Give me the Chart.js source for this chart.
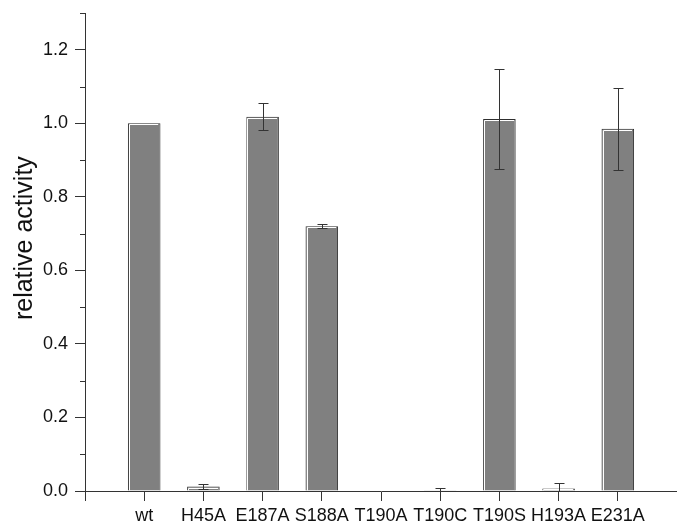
<!DOCTYPE html>
<html>
<head>
<meta charset="utf-8">
<script src="https://cdn.jsdelivr.net/npm/chart.js@4.4.1/dist/chart.umd.min.js"></script>
<style>
    html, body { margin: 0; padding: 0; background: #fff; }
    #wrap { width: 677px; height: 524px; }
</style>
</head>
<body>
<div id="wrap"><canvas id="activityChart" width="677" height="524"></canvas></div>
<script>
// values
var mutants = ['wt', 'H45A', 'E187A', 'S188A', 'T190A', 'T190C', 'T190S', 'H193A', 'E231A'];
var activity = [1.0, 0.012, 1.018, 0.72, 0, 0.002, 1.012, 0.007, 0.985];
var activityError = [0, 0.007, 0.037, 0.005, 0, 0.005, 0.135, 0.014, 0.112];

var axisColor = '#333';
var fontFamily = '"Liberation Sans", Arial, Helvetica, sans-serif';

// white highlight along the left and top edges of each bar
var barHighlight = {
    id: 'barHighlight',
    afterDatasetsDraw: function (chart) {
        var ctx = chart.ctx;
        var meta = chart.getDatasetMeta(0);
        ctx.save();
        ctx.strokeStyle = '#fff';
        ctx.lineWidth = 1;
        meta.data.forEach(function (bar, i) {
            if (activity[i] <= 0) return;
            var left = bar.x - bar.width / 2;
            var right = bar.x + bar.width / 2;
            var top = Math.min(bar.y, bar.base);
            var bottom = Math.max(bar.y, bar.base);
            if (bottom - top < 2) return;
            ctx.beginPath();
            ctx.moveTo(Math.round(left) + 1.5, bottom);
            ctx.lineTo(Math.round(left) + 1.5, Math.round(top) + 1.5);
            ctx.lineTo(Math.round(right) - 2, Math.round(top) + 1.5);
            ctx.stroke();
        });
        ctx.restore();
    }
};

// error bars from activityError
var errorBars = {
    id: 'errorBars',
    afterDatasetsDraw: function (chart) {
        var ctx = chart.ctx;
        var yScale = chart.scales.y;
        var meta = chart.getDatasetMeta(0);
        ctx.save();
        ctx.strokeStyle = axisColor;
        ctx.lineWidth = 1;
        meta.data.forEach(function (bar, i) {
            var err = activityError[i];
            if (!err) return;
            var x = Math.round(bar.x) + 0.5;
            var yHi = Math.round(yScale.getPixelForValue(activity[i] + err)) + 0.5;
            var yLo = Math.round(yScale.getPixelForValue(Math.max(activity[i] - err, 0))) + 0.5;
            ctx.beginPath();
            ctx.moveTo(x, yHi);
            ctx.lineTo(x, yLo);
            ctx.moveTo(x - 5, yHi);
            ctx.lineTo(x + 5, yHi);
            ctx.moveTo(x - 5, yLo);
            ctx.lineTo(x + 5, yLo);
            ctx.stroke();
        });
        ctx.restore();
    }
};

// short minor ticks at the odd tenths on the y axis
var minorTicks = {
    id: 'minorTicks',
    afterDraw: function (chart) {
        var ctx = chart.ctx;
        var yScale = chart.scales.y;
        ctx.save();
        ctx.strokeStyle = axisColor;
        ctx.lineWidth = 1;
        yScale.ticks.forEach(function (t) {
            if (Math.round(t.value * 10) % 2 === 0) return;
            var y = Math.round(yScale.getPixelForValue(t.value)) + 0.5;
            ctx.beginPath();
            ctx.moveTo(yScale.right - 5, y);
            ctx.lineTo(yScale.right, y);
            ctx.stroke();
        });
        ctx.restore();
    }
};

var activityChart = new Chart(document.getElementById('activityChart'), {
    type: 'bar',
    data: {
        datasets: [{
            data: activity.map(function (v, i) { return { x: i, y: v }; }),
            backgroundColor: '#808080',
            borderColor: '#2e2e2e',
            borderWidth: 1,
            categoryPercentage: 1,
            barPercentage: 0.55
        }]
    },
    options: {
        responsive: false,
        animation: false,
        layout: { padding: { top: 13, right: 0, bottom: 0, left: 0 } },
        plugins: {
            legend: { display: false },
            tooltip: { enabled: false }
        },
        scales: {
            x: {
                type: 'linear',
                min: -1,
                max: 9,
                offset: false,
                afterFit: function (scale) {
                    scale.height = 33;
                    scale.paddingLeft = 0;
                    scale.paddingRight = 0;
                },
                border: { color: axisColor, width: 1 },
                grid: {
                    offset: false,
                    drawOnChartArea: false,
                    tickLength: 10,
                    tickColor: axisColor
                },
                ticks: {
                    stepSize: 1,
                    autoSkip: false,
                    maxRotation: 0,
                    padding: 4,
                    color: '#111',
                    font: { family: fontFamily, size: 18 },
                    callback: function (v) { return mutants[v] || ''; }
                }
            },
            y: {
                min: 0,
                max: 1.3,
                afterFit: function (scale) {
                    scale.width = 85;
                    scale.paddingTop = 0;
                    scale.paddingBottom = 0;
                },
                border: { color: axisColor, width: 1 },
                grid: {
                    drawOnChartArea: false,
                    tickLength: 10,
                    tickColor: function (c) {
                        return Math.round(c.tick.value * 10) % 2 === 0 ? axisColor : 'rgba(0,0,0,0)';
                    }
                },
                ticks: {
                    stepSize: 0.1,
                    padding: 7,
                    color: '#111',
                    font: { family: fontFamily, size: 18 },
                    callback: function (v) {
                        return Math.round(v * 10) % 2 === 0 ? v.toFixed(1) : '';
                    }
                },
                title: {
                    display: true,
                    // leading spaces nudge the label up a little, as in the original
                    text: '    relative activity',
                    color: '#111',
                    font: { family: fontFamily, size: 25 },
                    padding: { top: 10, bottom: 0 }
                }
            }
        }
    },
    plugins: [barHighlight, errorBars, minorTicks]
});
</script>
</body>
</html>
